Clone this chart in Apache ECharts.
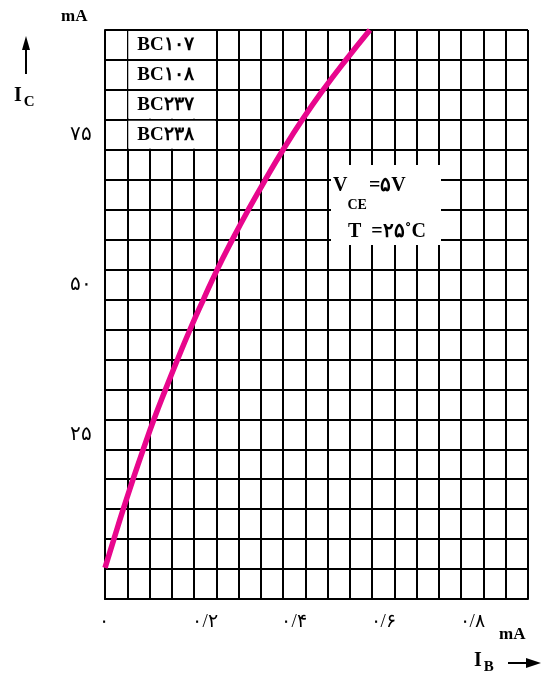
<!DOCTYPE html>
<html>
<head>
<meta charset="utf-8">
<script src="https://cdn.jsdelivr.net/npm/echarts@6/dist/echarts.min.js"></script>
<style>
  html, body { margin: 0; padding: 0; background: #fff; }
  #chart { width: 543px; height: 677px; }
</style>
</head>
<body>
<div id="chart"></div>
<script>
// base current (mA) vs collector current (mA)
var ibValues = [0, 0.020, 0.041, 0.063, 0.086, 0.110, 0.136, 0.163, 0.191, 0.221,
  0.252, 0.286, 0.322, 0.360, 0.400, 0.443, 0.490, 0.541, 0.595];
var icValues = [5.2, 10, 15, 20, 25, 30, 35, 40, 45, 50,
  55, 60, 65, 70, 75, 80, 85, 90, 95];
var xTickLabels = { 0: '۰', 20: '۰/۲', 40: '۰/۴', 60: '۰/۶', 80: '۰/۸' };
var yTickLabels = { 25: '۲۵', 50: '۵۰', 75: '۷۵' };
var partNames = ['BC۱۰۷', 'BC۱۰۸', 'BC۲۳۷', 'BC۲۳۸'];

var FONT = '"Liberation Serif", "DejaVu Serif", serif';
var G = { left: 105, top: 30, width: 423, height: 569 };
var colW = G.width / 19, rowH = G.height / 19;

var myChart = echarts.init(document.getElementById('chart'));

var curve = [];
for (var i = 0; i < ibValues.length; i++) curve.push([ibValues[i], icValues[i]]);

var graphics = [];
// white cells behind the part names (horizontal lines stay visible)
for (var r = 0; r < partNames.length; r++) {
  graphics.push({
    type: 'rect', z: 10,
    shape: { x: G.left + colW + 1, y: G.top + r * rowH + 1, width: colW * 4 - 2, height: rowH - 2 },
    style: { fill: '#fff' }
  });
  graphics.push({
    type: 'text', z: 11, left: G.left + colW + 10, top: G.top + r * rowH + 6,
    style: { text: partNames[r], font: 'bold 19px ' + FONT, fill: '#000' }
  });
}
// conditions box
graphics.push({
  type: 'rect', z: 10,
  shape: { x: 331, y: 165, width: 110, height: 80 },
  style: { fill: '#fff' }
});
graphics.push({
  type: 'text', z: 11, left: 333, top: 176,
  style: {
    text: '{b|V}{s|CE}{b|=۵V}',
    rich: {
      b: { font: 'bold 20px ' + FONT, fill: '#000', verticalAlign: 'top' },
      s: { font: 'bold 14px ' + FONT, fill: '#000', padding: [22, 2, 0, 0] }
    }
  }
});
graphics.push({
  type: 'text', z: 11, left: 348, top: 222,
  style: { text: 'T  =۲۵˚C', font: 'bold 20px ' + FONT, fill: '#000' }
});
// axis titles
graphics.push({ type: 'text', left: 61, top: 8, style: { text: 'mA', font: 'bold 17px ' + FONT, fill: '#000' } });
graphics.push({
  type: 'text', left: 14, top: 86,
  style: {
    text: '{b|I}{s|C}',
    rich: {
      b: { font: 'bold 20px ' + FONT, fill: '#000' },
      s: { font: 'bold 15px ' + FONT, fill: '#000', padding: [12, 0, 0, 2] }
    }
  }
});
graphics.push({ type: 'line', shape: { x1: 26, y1: 74, x2: 26, y2: 46 }, style: { stroke: '#000', lineWidth: 2 } });
graphics.push({ type: 'polygon', shape: { points: [[26, 36], [22, 50], [30, 50]] }, style: { fill: '#000' } });
graphics.push({ type: 'text', left: 499, top: 626, style: { text: 'mA', font: 'bold 17px ' + FONT, fill: '#000' } });
graphics.push({
  type: 'text', left: 474, top: 651,
  style: {
    text: '{b|I}{s|B}',
    rich: {
      b: { font: 'bold 20px ' + FONT, fill: '#000' },
      s: { font: 'bold 15px ' + FONT, fill: '#000', padding: [12, 0, 0, 2] }
    }
  }
});
graphics.push({ type: 'line', shape: { x1: 508, y1: 663, x2: 530, y2: 663 }, style: { stroke: '#000', lineWidth: 2 } });
graphics.push({ type: 'polygon', shape: { points: [[541, 663], [526, 658], [526, 668]] }, style: { fill: '#000' } });

var option = {
  animation: false,
  backgroundColor: '#fff',
  grid: G,
  xAxis: {
    type: 'value', min: 0, max: 0.95, interval: 0.05,
    axisLine: { show: true, onZero: false, lineStyle: { color: '#000', width: 2 } },
    axisTick: { show: false },
    splitLine: { show: true, lineStyle: { color: '#000', width: 2 } },
    axisLabel: {
      margin: 14, showMinLabel: true, showMaxLabel: true,
      formatter: function (v) {
        var k = Math.round(v * 100);
        if (!xTickLabels[k]) return '';
        return (k === 0 ? '{z|' : '{n|') + xTickLabels[k] + '}';
      },
      rich: {
        z: { color: '#000', fontSize: 19, fontFamily: FONT, padding: [0, 3, 0, 0] },
        n: { color: '#000', fontSize: 19, fontFamily: FONT, padding: [0, 0, 0, 22] }
      }
    }
  },
  yAxis: {
    type: 'value', min: 0, max: 95, interval: 5,
    axisLine: { show: true, lineStyle: { color: '#000', width: 2 } },
    axisTick: { show: false },
    splitLine: { show: true, lineStyle: { color: '#000', width: 2 } },
    axisLabel: {
      margin: 13,
      formatter: function (v) {
        var k = Math.round(v);
        return yTickLabels[k] ? '{t|' + yTickLabels[k] + '}' : '';
      },
      rich: {
        t: { color: '#000', fontSize: 20, fontFamily: FONT, padding: [0, 0, 30, 0] }
      }
    }
  },
  series: [{
    type: 'line', data: curve, smooth: true, symbol: 'none', z: 5,
    lineStyle: { color: '#E8068D', width: 5.5 }
  }],
  graphic: graphics
};

myChart.setOption(option);
</script>
</body>
</html>
